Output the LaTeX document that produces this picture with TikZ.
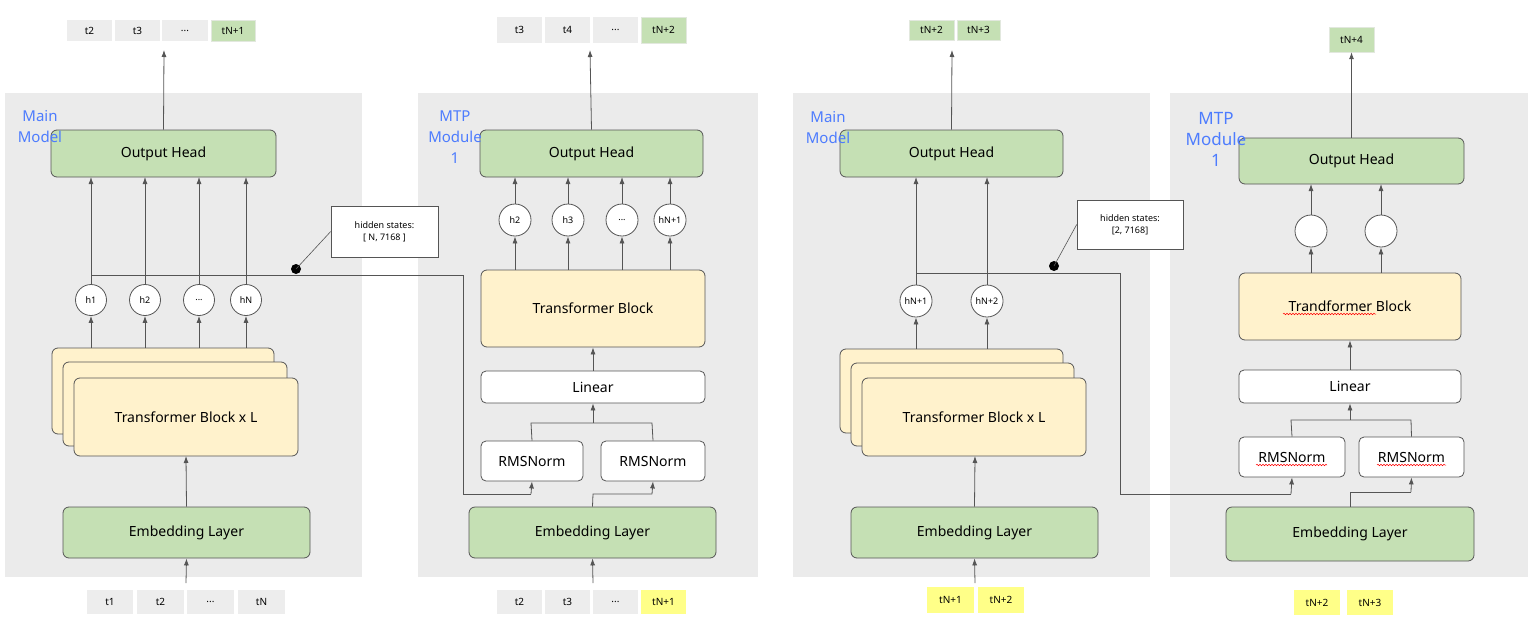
\documentclass[tikz,border=0pt]{standalone}
\usepackage{fontspec}
\setmainfont{Noto Sans}
\usetikzlibrary{arrows.meta,decorations.pathmorphing,shapes.geometric}
\definecolor{panelg}{HTML}{EBEBEB}
\definecolor{tokg}{HTML}{EDEDED}
\definecolor{grn}{HTML}{C5E0B4}
\definecolor{ylw}{HTML}{FFF2CC}
\definecolor{tyl}{HTML}{FFFF88}
\definecolor{lbl}{HTML}{4D7CFE}
\definecolor{ln}{HTML}{555555}
\newcommand\threedots{...}
\tikzset{
 base/.style={draw=ln,line width=0.8pt,inner sep=0pt,align=center,font=\fontsize{14}{16}\selectfont},
 gbox/.style={base,fill=grn,rounded corners=6pt},
 ybox/.style={base,fill=ylw,rounded corners=6pt},
 wbox/.style={base,fill=white,rounded corners=5pt},
 tok/.style={inner sep=0pt,fill=tokg,font=\fontsize{10}{12}\selectfont},
 tokgr/.style={tok,fill=grn,draw=grn!80!black!30},
 tokyl/.style={tok,fill=tyl},
 hc/.style={draw=ln,line width=0.8pt,fill=white,ellipse,inner sep=0pt,font=\fontsize{9}{10}\selectfont},
 note/.style={draw=ln,line width=0.6pt,fill=white,inner sep=0pt,align=center,font=\fontsize{9}{12}\selectfont},
 arr/.style={draw=ln,line width=0.8pt,-{Latex[length=7pt,width=5pt]}},
 ln/.style={draw=ln,line width=0.8pt},
 lab/.style={text=lbl,font=\fontsize{15}{21}\selectfont,align=center,inner sep=0pt},
 sq/.style={draw=red,line width=0.5pt,decorate,decoration={snake,amplitude=0.8pt,segment length=3pt}}
}
\newcommand\bx[7]{\node[#6,minimum width={(#4-#2)*1pt},minimum height={(#5-#3)*1pt}] (#1) at ({(#2+#4)/2},{(#3+#5)/2}) {#7};}
\begin{document}
\begin{tikzpicture}[x=1pt,y=-1pt]
\useasboundingbox (0,0) rectangle (1535,624);
% panels
\fill[panelg] (5,93) rectangle (362,577);
\fill[panelg] (418,93) rectangle (758,577);
\fill[panelg] (793,93) rectangle (1150,577);
\fill[panelg] (1170,93) rectangle (1528,577);
% ===== Panel 1
\bx{a1}{67}{20}{112}{41}{tok}{t2}
\bx{a2}{115}{20}{160}{41}{tok}{t3}
\bx{a3}{162}{20}{208}{41}{tok}{...}
\bx{a4}{211}{20}{255}{41}{tokgr}{tN+1}
\bx{oh1}{51}{130}{276}{177}{gbox}{Output Head}
\draw[arr] (oh1.north) -- (164,50);
\node[lab] (lm1) at (40,127) {Main\\Model};
\bx{s1a}{52}{348}{274}{434}{ybox}{}
\bx{s1b}{63}{362}{287}{446}{ybox}{}
\bx{s1c}{74}{378}{298}{456}{ybox}{Transformer Block x L}
\bx{e1}{63}{507}{310}{558}{gbox}{Embedding Layer}
\foreach \n/\x/\t in {1/91/h1,2/145/h2,3/199/\threedots,4/246/hN}{
 \node[hc,minimum width=31pt,minimum height=31pt] (c1\n) at (\x,300) {\t};
 \draw[arr] (c1\n.north) -- (\x,177);
 \draw[arr] (\x,348) -- (c1\n.south);
}
\draw[arr] (e1.north) -- (186,456);
\bx{b1}{87}{590}{133}{614}{tok}{t1}
\bx{b2}{137}{590}{184}{614}{tok}{t2}
\bx{b3}{187}{590}{234}{614}{tok}{...}
\bx{b4}{238}{590}{285}{614}{tok}{tN}
\coordinate (e1in) at (186,583);
\draw[arr] (e1in) -- (e1.south);
\bx{n1}{331}{206}{438}{257}{note}{hidden states:\\{[} N, 7168 {]}}
\coordinate (d1) at (296,269);
\fill[black] (d1) circle (5pt);
\draw[ln,line width=0.6pt] (d1) -- (n1.west);
% ===== Panel 2
\bx{p1}{497}{17}{542}{43}{tok}{t3}
\bx{p2}{545}{17}{590}{43}{tok}{t4}
\bx{p3}{593}{17}{638}{43}{tok}{...}
\bx{p4}{641}{17}{686}{43}{tokgr}{tN+2}
\bx{oh2}{480}{130}{703}{177}{gbox}{Output Head}
\draw[arr] (oh2.north) -- (590,50);
\node[lab] (lm2) at (455,137) {MTP\\Module\\1};
\bx{tb2}{481}{270}{705}{347}{ybox}{Transformer Block}
\bx{li2}{481}{371}{705}{403}{wbox}{Linear}
\bx{r21}{481}{441}{583}{481}{wbox}{RMSNorm}
\bx{r22}{601}{441}{705}{481}{wbox}{RMSNorm}
\bx{e2}{469}{507}{716}{558}{gbox}{Embedding Layer}
\foreach \n/\x/\t in {1/515/h2,2/568/h3,3/622/\threedots,4/670/hN+1}{
 \node[hc,minimum width=32pt,minimum height=32pt] (c2\n) at (\x,220) {\t};
 \draw[arr] (c2\n.north) -- (\x,177);
 \draw[arr] (\x,270) -- (c2\n.south);
}
\draw[arr] (li2.north) -- (tb2.south);
\draw[ln] (r21.north) -- (531,423) -- (652,423) -- (r22.north);
\draw[arr] (593,423) -- (li2.south);
\draw[ln] (e2.north) -- (593,494) -- (652,494);
\draw[arr] (652,494) -- (r22.south);
\bx{q1}{497}{590}{542}{614}{tok}{t2}
\bx{q2}{545}{590}{590}{614}{tok}{t3}
\bx{q3}{593}{590}{638}{614}{tok}{...}
\bx{q4}{641}{590}{686}{614}{tokyl}{tN+1}
\coordinate (e2in) at (593,583);
\draw[arr] (e2in) -- (e2.south);
% hidden line 1
\draw[ln] (c11.north |- 0,275) -- (463,275) -- (463,494) -- (531,494);
\draw[arr] (531,494) -- (r21.south);
% ===== Panel 3
\bx{u1}{909}{20}{954}{40}{tokgr}{tN+2}
\bx{u2}{957}{20}{1000}{40}{tokgr}{tN+3}
\bx{oh3}{840}{130}{1063}{177}{gbox}{Output Head}
\draw[arr] (oh3.north) -- (952,50);
\node[lab] (lm3) at (828,128) {Main\\Model};
\bx{s3a}{840}{349}{1063}{433}{ybox}{}
\bx{s3b}{851}{363}{1074}{446}{ybox}{}
\bx{s3c}{862}{378}{1086}{456}{ybox}{Transformer Block x L}
\bx{e3}{851}{507}{1098}{558}{gbox}{Embedding Layer}
\foreach \n/\x/\t in {1/916/hN+1,2/987/hN+2}{
 \node[hc,minimum width=31pt,minimum height=32pt] (c3\n) at (\x,301) {\t};
 \draw[arr] (c3\n.north) -- (\x,177);
 \draw[arr] (\x,349) -- (c3\n.south);
}
\draw[arr] (e3.north) -- (975,456);
\bx{v1}{927}{587}{974}{613}{tokyl}{tN+1}
\bx{v2}{978}{587}{1024}{613}{tokyl}{tN+2}
\coordinate (e3in) at (975,583);
\draw[arr] (e3in) -- (e3.south);
\bx{n3}{1077}{200}{1183}{249}{note}{hidden states:\\{[}2, 7168{]}}
\coordinate (d3) at (1054,266);
\fill[black] (d3) circle (5pt);
\draw[ln,line width=0.6pt] (d3) -- (n3.west);
% ===== Panel 4
\bx{w1}{1329}{27}{1374}{52}{tokgr}{tN+4}
\bx{oh4}{1239}{138}{1464}{184}{gbox}{Output Head}
\draw[arr] (oh4.north) -- (w1.south);
\node[lab,font=\fontsize{17}{21}\selectfont] (lm4) at (1216,139) {MTP\\Module\\1};
\bx{tb4}{1239}{273}{1461}{340}{ybox}{Trandformer Block}
\draw[sq] (1283,314) -- (1376,314);
\bx{li4}{1239}{370}{1461}{403}{wbox}{Linear}
\bx{r41}{1239}{437}{1345}{477}{wbox}{RMSNorm}
\bx{r42}{1359}{437}{1464}{477}{wbox}{RMSNorm}
\draw[sq] (1256,465) -- (1327,465);
\draw[sq] (1377,465) -- (1446,465);
\bx{e4}{1226}{507}{1474}{561}{gbox}{Embedding Layer}
\foreach \n/\x in {1/1311,2/1381}{
 \node[hc,minimum width=32pt,minimum height=32pt] (c4\n) at (\x,231) {};
 \draw[arr] (c4\n.north) -- (\x,184);
 \draw[arr] (\x,273) -- (c4\n.south);
}
\draw[arr] (li4.north) -- (tb4.south);
\draw[ln] (r41.north) -- (1291,420) -- (1411,420) -- (r42.north);
\draw[arr] (1350,420) -- (li4.south);
\draw[ln] (e4.north) -- (1350,492) -- (1411,492);
\draw[arr] (1411,492) -- (r42.south);
\bx{x1}{1294}{590}{1340}{615}{tokyl}{tN+2}
\bx{x2}{1347}{590}{1393}{615}{tokyl}{tN+3}
% hidden line 3
\draw[ln] (c31.north |- 0,273) -- (1120,273) -- (1120,494) -- (1291,494);
\draw[arr] (1291,494) -- (r41.south);
\end{tikzpicture}
\end{document}
